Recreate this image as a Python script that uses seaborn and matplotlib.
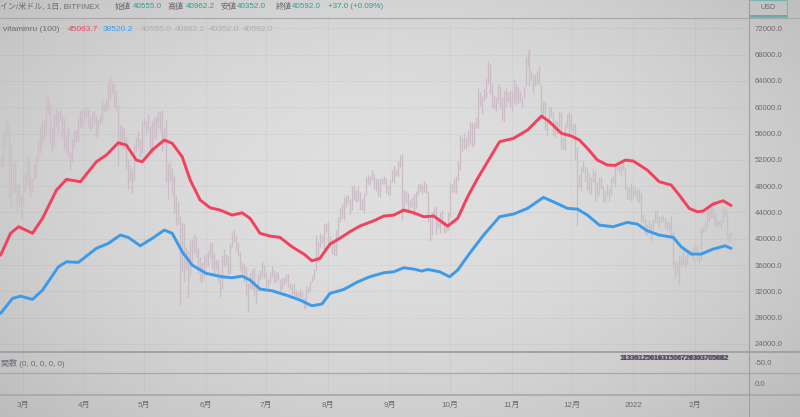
import numpy as np
import pandas as pd
import matplotlib
matplotlib.use("Agg")
import matplotlib.pyplot as plt
import matplotlib.dates as mdates
from matplotlib.lines import Line2D
from matplotlib.patches import Rectangle
import seaborn as sns

# ---------------- data ----------------
START = "2021-02-18"
feb21_high = [52500, 56300, 57500, 58300, 57500, 54200, 51300, 52000, 48400, 48300, 46600]
feb21_low = [50900, 50700, 54000, 55500, 46000, 45000, 47100, 47000, 44100, 45000, 43000]
mar_high = [49800, 50200, 52600, 51800, 49400, 49200, 51400, 52400, 54900, 57200, 58100, 58000, 61700, 61500, 60600, 56900, 58900, 60000, 59400, 59800, 58600, 58400, 55800, 57200, 53200, 55100, 56600, 56500, 58400, 59400, 59800]
mar_low = [45000, 47100, 48100, 47500, 46300, 47100, 48900, 49300, 51900, 53100, 54300, 55000, 56100, 59000, 54600, 53300, 54200, 57100, 56300, 57900, 55500, 53700, 53000, 52600, 50400, 51700, 53900, 54700, 54900, 57000, 56900]
apr_high = [59500, 60100, 59800, 58500, 59100, 59400, 58600, 58200, 58800, 61200, 60700, 61300, 63800, 64900, 63800, 63600, 62500, 60400, 57500, 57100, 56800, 55500, 52100, 51200, 50600, 54400, 55400, 56400, 55200, 57900]
apr_low = [57900, 58500, 57000, 56600, 56800, 57400, 55500, 55800, 57400, 57900, 59200, 59500, 59800, 61300, 62100, 60000, 59600, 51000, 54300, 53600, 53700, 50600, 47500, 48800, 47000, 48900, 53400, 53900, 52400, 53100]
may_high = [58400, 57900, 58900, 57200, 57900, 58300, 58600, 59500, 59300, 59600, 56900, 58000, 51300, 51600, 50700, 49700, 46600, 45800, 43500, 42500, 42200, 38800, 38200, 39800, 39900, 40800, 40400, 38800, 37300, 36400, 37500]
may_low = [57000, 56100, 56500, 53100, 52900, 55200, 55300, 56900, 56300, 53400, 54400, 48600, 46000, 48800, 46600, 43900, 42100, 42300, 30000, 35000, 33500, 35300, 31100, 34400, 36400, 37800, 37200, 34800, 33600, 33400, 34200]
jun_high = [37900, 38200, 39500, 39300, 37900, 36800, 36800, 34000, 37500, 38400, 37700, 37400, 39300, 41000, 41300, 40500, 39500, 38200, 36400, 36100, 35700, 33300, 34800, 35200, 35500, 32700, 34700, 35200, 36600, 36000]
jun_low = [35700, 35900, 37200, 35600, 34800, 35300, 33400, 31000, 32400, 35800, 35900, 34600, 34800, 38700, 39500, 38100, 37400, 35200, 34800, 33400, 31300, 28800, 32300, 32400, 31300, 30200, 32000, 33900, 34200, 34000]
jul_high = [35000, 33900, 34900, 35900, 35300, 35000, 35000, 33900, 34000, 34200, 34600, 34600, 33300, 33100, 33200, 32200, 31900, 32400, 31900, 31000, 32800, 32600, 33600, 34500, 35400, 40500, 39500, 40900, 40600, 42300, 42400]
jul_low = [32700, 32700, 33300, 34200, 33200, 33500, 33800, 32100, 32300, 33000, 33300, 32700, 32300, 31600, 31200, 31100, 31200, 31100, 30500, 29300, 29500, 31700, 32000, 33400, 33900, 35300, 36400, 38800, 39300, 38400, 41000]
aug_high = [42600, 40400, 39800, 39900, 41300, 43300, 44700, 45300, 46400, 46700, 46700, 46100, 48000, 48100, 47400, 48000, 47100, 46000, 47000, 49400, 49700, 49500, 50500, 49800, 49300, 49100, 49200, 49300, 49600, 49200, 48200]
aug_low = [39500, 38700, 37700, 37500, 37400, 39900, 42500, 43100, 42800, 44900, 45400, 43800, 44300, 45900, 45600, 45700, 44400, 44300, 43900, 46600, 48300, 48100, 49000, 47600, 47200, 46500, 46400, 48400, 48300, 46900, 46700]
sep_high = [49000, 50400, 51000, 50500, 51900, 52800, 52900, 47400, 47300, 47000, 45900, 46400, 46800, 47300, 48400, 48500, 48100, 48800, 48300, 47300, 43600, 44000, 44900, 45000, 42900, 44000, 44300, 42700, 42600, 44100]
sep_low = [46600, 48600, 48500, 49500, 49600, 50900, 42800, 44400, 45500, 44200, 44700, 44800, 43400, 44700, 46700, 47100, 46800, 47100, 46900, 42500, 39600, 40600, 43100, 40700, 41700, 40900, 42100, 40900, 41100, 41400]
oct_high = [48500, 48400, 49200, 49500, 51900, 55800, 55300, 56100, 55400, 56500, 57800, 57700, 57600, 58500, 62900, 62300, 61700, 62700, 64500, 67000, 66600, 63700, 61700, 61500, 63700, 63300, 61500, 62500, 62900, 62300, 62400]
oct_low = [43300, 47100, 47100, 46900, 49000, 50400, 53400, 53600, 53700, 54100, 54400, 54000, 54300, 56800, 56900, 60200, 58900, 60900, 61400, 63500, 62000, 60000, 59700, 59500, 60700, 59900, 58000, 57800, 60200, 60800, 60100]
nov_high = [62400, 64300, 63500, 63100, 62500, 61600, 63300, 67700, 68500, 69000, 65500, 65000, 65000, 65500, 66300, 63600, 61000, 60900, 58400, 60000, 60000, 59300, 58000, 57900, 59300, 59200, 55300, 57400, 58900, 59200]
nov_low = [59500, 60700, 60400, 60700, 60800, 60100, 61400, 63300, 66300, 63300, 64100, 62300, 63300, 63600, 63500, 58600, 58400, 56500, 55600, 57400, 58500, 55800, 55500, 55900, 57000, 53600, 53700, 53500, 56800, 56000]
dec_high = [59000, 57400, 57600, 53900, 49700, 50900, 51900, 51100, 50700, 50000, 49400, 50700, 50300, 48600, 49400, 49400, 48000, 47300, 48300, 47500, 49300, 49500, 51300, 51800, 51100, 51200, 52000, 50700, 48100, 47900, 48500]
dec_low = [56500, 55900, 52000, 42000, 47800, 47200, 50100, 48700, 47400, 47000, 46600, 48700, 45700, 46400, 46600, 47500, 45600, 45600, 46500, 45700, 46600, 48500, 47900, 50500, 50200, 49500, 50500, 47400, 46100, 46000, 45700]
jan_high = [47900, 47900, 47500, 47500, 47000, 43700, 43100, 42300, 42800, 42200, 43000, 44300, 44400, 43400, 43500, 43400, 43200, 42700, 42500, 43400, 41100, 36800, 36500, 37500, 37500, 38900, 37200, 38000, 38400, 38300, 38700]
jan_low = [46200, 46700, 45700, 45500, 42600, 42600, 40800, 40600, 41200, 39700, 41300, 42500, 42300, 41800, 42600, 42600, 41600, 41300, 41200, 40600, 35500, 34000, 34600, 33000, 35700, 36200, 35500, 36200, 37400, 37400, 36600]
feb22_high = [39200, 38900, 37400, 41700, 41900, 42600, 44400, 45400, 44800, 45800, 43900, 43000, 42700, 42800, 44700, 44500, 44200, 40900, 40962]
feb22_low = [38000, 36600, 36300, 36800, 40900, 41100, 41700, 42700, 43200, 43200, 42000, 41800, 41900, 41600, 42500, 43400, 40100, 39500, 40352]

red_dates = ["2021-02-18", "2021-02-23", "2021-02-27", "2021-03-06", "2021-03-11", "2021-03-18", "2021-03-23", "2021-03-30", "2021-04-07", "2021-04-12", "2021-04-18", "2021-04-22", "2021-04-27", "2021-04-30", "2021-05-05", "2021-05-11", "2021-05-15", "2021-05-20", "2021-05-24", "2021-05-29", "2021-06-03", "2021-06-08", "2021-06-14", "2021-06-19", "2021-06-23", "2021-06-28", "2021-07-03", "2021-07-08", "2021-07-14", "2021-07-20", "2021-07-24", "2021-07-28", "2021-08-02", "2021-08-07", "2021-08-12", "2021-08-17", "2021-08-24", "2021-08-29", "2021-09-03", "2021-09-08", "2021-09-13", "2021-09-18", "2021-09-23", "2021-09-27", "2021-09-30", "2021-10-05", "2021-10-10", "2021-10-15", "2021-10-20", "2021-10-26", "2021-11-02", "2021-11-09", "2021-11-16", "2021-11-20", "2021-11-26", "2021-12-01", "2021-12-05", "2021-12-09", "2021-12-14", "2021-12-19", "2021-12-23", "2021-12-28", "2022-01-01", "2022-01-08", "2022-01-14", "2022-01-20", "2022-01-24", "2022-01-29", "2022-02-02", "2022-02-05", "2022-02-10", "2022-02-15", "2022-02-19"]
red_values = [37500, 40830, 41830, 40830, 43100, 47400, 49030, 48670, 51710, 52730, 54600, 54250, 51970, 51710, 53490, 55010, 54510, 52470, 48930, 45880, 44710, 44360, 43600, 43950, 43100, 40830, 40410, 40210, 38780, 37670, 36650, 37010, 39190, 40060, 41070, 41930, 42740, 43450, 43600, 44360, 43950, 43350, 43450, 42590, 41930, 43100, 46390, 49180, 51710, 54750, 55270, 56530, 58660, 57790, 56030, 55620, 55010, 53750, 51970, 51210, 51160, 51970, 51820, 50450, 48670, 48170, 46650, 44620, 44110, 44210, 45280, 45780, 45060]
blue_dates = ["2021-02-18", "2021-02-24", "2021-02-28", "2021-03-06", "2021-03-11", "2021-03-19", "2021-03-23", "2021-03-29", "2021-04-07", "2021-04-13", "2021-04-19", "2021-04-23", "2021-04-29", "2021-05-05", "2021-05-11", "2021-05-15", "2021-05-20", "2021-05-25", "2021-06-01", "2021-06-09", "2021-06-14", "2021-06-19", "2021-06-23", "2021-06-28", "2021-07-04", "2021-07-11", "2021-07-18", "2021-07-24", "2021-07-29", "2021-08-02", "2021-08-09", "2021-08-16", "2021-08-22", "2021-08-29", "2021-09-03", "2021-09-08", "2021-09-13", "2021-09-17", "2021-09-20", "2021-09-26", "2021-10-01", "2021-10-05", "2021-10-11", "2021-10-18", "2021-10-26", "2021-11-02", "2021-11-09", "2021-11-17", "2021-11-22", "2021-11-29", "2021-12-04", "2021-12-09", "2021-12-15", "2021-12-22", "2021-12-29", "2022-01-03", "2022-01-08", "2022-01-14", "2022-01-21", "2022-01-25", "2022-01-30", "2022-02-04", "2022-02-10", "2022-02-16", "2022-02-19"]
blue_values = [28650, 30930, 31280, 30780, 32190, 35740, 36500, 36410, 38540, 39300, 40560, 40210, 38930, 40060, 41320, 40830, 38020, 36000, 34740, 34220, 34070, 34320, 33720, 32350, 32090, 31440, 30680, 29810, 30070, 31690, 32300, 33460, 34220, 34830, 34980, 35590, 35390, 35090, 35340, 34980, 34220, 35240, 37780, 40560, 43350, 43760, 44620, 46290, 45620, 44620, 44510, 43600, 42080, 41830, 42490, 42230, 41210, 40560, 40210, 38780, 37670, 37670, 38430, 38930, 38540]

price_ticks = [24000, 28000, 32000, 36000, 40000, 44000, 48000, 52000, 56000, 60000, 64000, 68000, 72000]
header_items = [("イン/米ドル, 1日, BITFINEX", 0, "g"), ("始値", 115, "g"), ("40555.0", 133, "t"),
                ("高値", 168, "g"), ("40962.2", 186, "t"), ("安値", 221, "g"), ("40352.0", 237, "t"),
                ("終値", 276, "g"), ("40592.0", 292, "t"), ("+37.0 (+0.09%)", 328, "t")]
legend_items = [("vitaminru (100)", 3, "g"), ("45063.7", 68, "r"), ("38520.2", 103, "b"),
                ("40555.0", 141, "l"), ("40962.2", 175, "l"), ("40352.0", 209, "l"), ("40592.0", 243, "l")]
panel_label = "関数 (0, 0, 0, 0, 0)"

# ---------------- style ----------------
sns.set_theme(style="white")
plt.rcParams["font.family"] = ["Liberation Sans", "Noto Sans CJK JP", "DejaVu Sans"]

RED = "#f3405c"
BLUE = "#3b9bea"
CANDLE = "#cabdc5"
GREY_TXT = "#706873"
TEAL = "#2f9e94"
COLS = {"g": GREY_TXT, "t": TEAL, "r": RED, "b": BLUE, "l": "#b3acb3"}

W, H = 800, 417
fig = plt.figure(figsize=(W / 100, H / 100), dpi=100)

def fx(px):
    return px / W

def fy(py):
    return 1 - py / H

# background vignette
bg = fig.add_axes([0, 0, 1, 1], zorder=-10)
yy, xx = np.mgrid[0:H, 0:W]
r = np.sqrt(((xx - 390) / 520.0) ** 2 + ((yy - 190) / 320.0) ** 2)
g = 0.875 - 0.13 * np.clip(r, 0, 1.3) ** 2
bg.imshow(np.dstack([g, g, g]), extent=[0, W, H, 0], aspect="auto", interpolation="bilinear")
bg.axis("off")

# data frames
highs = feb21_high + mar_high + apr_high + may_high + jun_high + jul_high + aug_high + sep_high + oct_high + nov_high + dec_high + jan_high + feb22_high
lows = feb21_low + mar_low + apr_low + may_low + jun_low + jul_low + aug_low + sep_low + oct_low + nov_low + dec_low + jan_low + feb22_low
bars = pd.DataFrame({"date": pd.date_range(START, periods=len(highs), freq="D"), "high": highs, "low": lows})
red = pd.DataFrame({"date": pd.to_datetime(red_dates), "value": red_values})
blue = pd.DataFrame({"date": pd.to_datetime(blue_dates), "value": blue_values})

x0 = mdates.date2num(pd.Timestamp(START)) - 0.28
x1 = x0 + 748 / 1.996

# main pane
ax = fig.add_axes([0, fy(351), fx(748), (351 - 18) / H])
ax.set_facecolor("none")
ax.vlines(bars["date"], bars["low"], bars["high"], color=CANDLE, linewidth=0.95, zorder=2)
for df, col in ((red, RED), (blue, BLUE)):
    sns.lineplot(data=df, x="date", y="value", color=col, linewidth=2.1, ax=ax, zorder=4,
                 estimator=None, solid_joinstyle="round", solid_capstyle="round")
ax.set_xlim(x0, x1)
ax.set_ylim(22935, 73567)
ax.set_xlabel("")
ax.set_ylabel("")
ax.yaxis.tick_right()
ax.set_yticks(price_ticks)
ax.set_yticklabels([f"{v:.1f}" for v in price_ticks])
ax.tick_params(axis="y", length=0, pad=5, labelsize=5.6, labelcolor=GREY_TXT)
ax.xaxis.set_major_locator(mdates.MonthLocator())
ax.tick_params(axis="x", length=0, labelbottom=False)
ax.grid(True, color="#000000", alpha=0.03, linewidth=0.8)
for s in ax.spines.values():
    s.set_visible(False)

# lower panes
ax2 = fig.add_axes([0, fy(373), fx(748), (373 - 352) / H], sharex=ax)
ax3 = fig.add_axes([0, fy(395), fx(748), (395 - 373) / H], sharex=ax)
ax2.set_ylim(-100, 0)
ax3.set_ylim(-1, 1)
for a, t in ((ax2, -50), (ax3, 0)):
    a.set_facecolor("none")
    a.yaxis.tick_right()
    a.set_yticks([t])
    a.set_yticklabels([f"{t:.1f}"])
    a.tick_params(axis="y", length=0, pad=5, labelsize=5.6, labelcolor=GREY_TXT)
    a.grid(True, axis="x", color="#000000", alpha=0.03, linewidth=0.8)
    for s in a.spines.values():
        s.set_visible(False)
ax2.tick_params(axis="x", length=0, labelbottom=False)

def month_fmt(v, pos=None):
    d = mdates.num2date(v)
    return str(d.year) if d.month == 1 else f"{d.month}月"

ax3.xaxis.set_major_locator(mdates.MonthLocator())
ax3.xaxis.set_major_formatter(plt.FuncFormatter(month_fmt))
ax3.tick_params(axis="x", length=0, pad=5, labelsize=5.8, labelcolor=GREY_TXT)
ax3.set_xlim(x0, x1)

# separators
for y, lw, c in ((18, 0.8, "#a9a6aa"), (351.5, 1.4, "#a4a1a5"), (373, 0.9, "#aaa7ab"), (395, 1.1, "#a6a3a7")):
    fig.add_artist(Line2D([0, 1], [fy(y), fy(y)], transform=fig.transFigure, color=c, linewidth=lw))
fig.add_artist(Line2D([fx(748.5), fx(748.5)], [0, 1], transform=fig.transFigure, color="#a29ca3", linewidth=0.8))

# USD box
fig.add_artist(Rectangle((fx(749), fy(17)), fx(38), 17 / H, transform=fig.transFigure,
                         facecolor="none", edgecolor="#7fb3b3", linewidth=0.8))
fig.add_artist(Rectangle((fx(749), fy(17)), fx(38), 2.5 / H, transform=fig.transFigure,
                         facecolor="#49a7a5", edgecolor="none", alpha=0.8))
fig.text(fx(768), fy(7.5), "USD", fontsize=5.2, color=GREY_TXT, ha="center", va="center")

# header texts
for txt, px, c in header_items:
    fig.text(fx(px), fy(7), txt, fontsize=5.8, color=COLS[c], ha="left", va="center")
for txt, px, c in legend_items:
    fig.text(fx(px), fy(29.5), txt, fontsize=6, color=COLS[c], ha="left", va="center")
fig.text(fx(1), fy(363), panel_label, fontsize=5.8, color=GREY_TXT, ha="left", va="center")
for dx in (0, 0.8):
    fig.text(fx(620 + dx), fy(358), "1133612501631506720303705082", fontsize=5.0,
             color="#5b4a66", ha="left", va="center", fontweight="bold")

fig.savefig("out.png", dpi=100)
